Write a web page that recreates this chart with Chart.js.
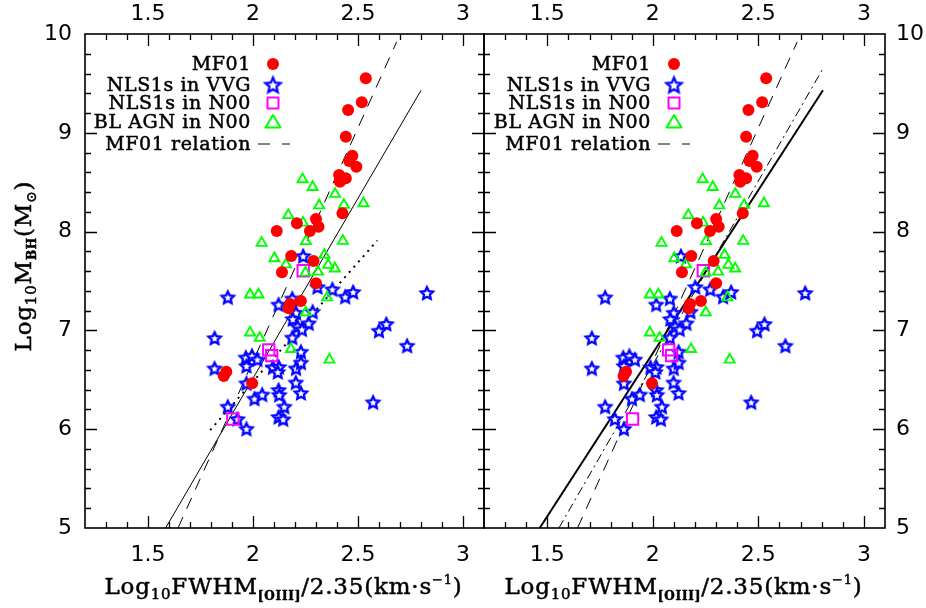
<!DOCTYPE html>
<html><head><meta charset="utf-8">
<script src="https://cdn.jsdelivr.net/npm/chart.js@4.4.0/dist/chart.umd.min.js"></script>
<style>
html,body{margin:0;padding:0;background:#fff;}
#wrap{position:relative;width:926px;height:608px;background:#fff;}
canvas{position:absolute;left:0;top:0;}
</style></head>
<body><div id="wrap"><canvas id="c1" width="926" height="608"></canvas><canvas id="c2" width="926" height="608"></canvas></div>
<script>
// ---------- data ----------
const xTickLabels = [1.5, 2, 2.5, 3];
const yTickLabels = [5, 6, 7, 8, 9, 10];
const legendLabels = ['MF01', 'NLS1s in VVG', 'NLS1s in N00', 'BL AGN in N00', 'MF01 relation'];

// MF01 (red filled circles)
const mf01X = [2.537,2.518,2.453,2.442,2.473,2.458,2.492,2.410,2.442,2.414,2.426,2.300,2.209,2.312,2.271,2.113,2.182,2.288,2.138,2.300,2.176,2.170,2.228,1.873,1.861,1.996];
const mf01Y = [9.552,9.309,9.231,8.961,8.768,8.715,8.657,8.573,8.539,8.505,8.185,8.128,8.084,8.050,8.006,8.006,7.753,7.702,7.588,7.477,7.267,7.224,7.298,6.582,6.538,6.465];

// NLS1s in VVG (blue stars), left panel
const vvgX = [2.239,1.880,2.828,2.378,2.439,2.477,2.122,2.187,2.307,2.205,2.284,2.189,2.265,2.212,2.233,2.187,1.817,2.635,2.600,2.734,2.228,1.966,1.995,2.021,1.969,1.817,2.095,2.123,2.118,2.205,2.228,1.969,2.204,2.228,2.007,2.044,2.122,2.125,2.149,1.880,2.572,2.122,2.144,1.969,1.926];
const vvgY = [7.753,7.335,7.379,7.416,7.341,7.389,7.262,7.323,7.439,7.179,7.189,7.115,7.072,7.039,7.011,6.928,6.923,7.065,6.997,6.845,6.784,6.726,6.743,6.706,6.640,6.616,6.627,6.630,6.579,6.616,6.675,6.465,6.473,6.366,6.309,6.351,6.397,6.348,6.228,6.228,6.273,6.124,6.101,6.004,6.103];
// NLS1s in VVG, right panel
const vvgRightX = [2.133,1.774,2.722,2.272,2.333,2.371,2.016,2.081,2.201,2.099,2.178,2.083,2.159,2.106,2.127,2.081,1.711,2.529,2.494,2.628,2.122,1.860,1.889,1.915,1.863,1.711,1.989,2.017,2.012,2.099,2.122,1.863,2.098,2.122,1.901,1.938,2.016,2.019,2.043,1.774,2.466,2.016,2.038,1.863,1.820];

// NLS1s in N00 (magenta squares)
const n00X = [2.239,2.075,2.089,1.904];
const n00Y = [7.604,6.802,6.744,6.103];

// BL AGN in N00 (green triangles)
const blX = [2.236,2.284,2.391,2.315,2.433,2.526,2.168,2.238,2.252,2.428,2.041,2.102,2.340,2.358,2.390,2.309,2.250,2.157,1.986,2.026,2.353,2.251,1.986,2.032,2.181,2.364];
const blY = [8.529,8.451,8.381,8.264,8.269,8.286,8.166,8.090,7.903,7.905,7.885,7.730,7.763,7.662,7.626,7.594,7.584,7.667,7.363,7.363,7.333,7.181,6.977,6.923,6.810,6.703];

// relation lines (endpoints)
const mf01RelX = [1.643, 2.684];
const mf01RelY = [5.0, 9.92];
const fitLeftX = [1.584, 2.80];
const fitLeftY = [5.0, 9.43];
const dotLeftX = [1.796, 2.592];
const dotLeftY = [5.99, 7.91];
const fitRightX = [1.464, 2.806];
const fitRightY = [5.0, 9.43];
const dashDotRightX = [1.555, 2.806];
const dashDotRightY = [5.0, 9.65];

// ---------- helpers ----------
const pts = (xs, ys) => xs.map((x, i) => ({x: x, y: ys[i]}));

function makeStar(R, r, lw, color) {
  const s = Math.ceil(2 * R + lw + 4);
  const c = document.createElement('canvas');
  c.width = s; c.height = s;
  const g = c.getContext('2d');
  g.translate(s / 2, s / 2 + 0.6);
  g.beginPath();
  for (let i = 0; i < 10; i++) {
    const rad = (i % 2) ? r : R;
    const a = -Math.PI / 2 + i * Math.PI / 5;
    g.lineTo(rad * Math.cos(a), rad * Math.sin(a));
  }
  g.closePath();
  g.fillStyle = '#fff'; g.fill();
  g.lineWidth = lw; g.strokeStyle = color; g.lineJoin = 'miter'; g.stroke();
  return c;
}
const starImg = makeStar(6.4, 3.1, 2.3, '#0000ff');
const starLegend = makeStar(8.0, 3.7, 2.3, '#0000ff');

function boldText(ctx, t, x, y) {
  ctx.fillText(t, x, y);
  ctx.strokeText(t, x, y);
}

function drawRich(ctx, segs, x, y, align, spacing) {
  ctx.letterSpacing = spacing || '0px';
  let w = 0;
  segs.forEach(s => { ctx.font = s.f; w += ctx.measureText(s.t).width; });
  let cx = align === 'center' ? x - w / 2 : (align === 'right' ? x - w : x);
  ctx.textAlign = 'left'; ctx.textBaseline = 'alphabetic';
  segs.forEach(s => { ctx.font = s.f; boldText(ctx, s.t, cx, y + (s.dy || 0)); cx += ctx.measureText(s.t).width; });
  ctx.letterSpacing = '0px';
}

const SERIF = '"DejaVu Serif", serif';
const SANS = '"DejaVu Sans", sans-serif';
const xTitleSegs = [
  {t: 'Log', f: '23px ' + SERIF},
  {t: '10', f: '15px ' + SERIF, dy: 5},
  {t: 'FWHM', f: '23px ' + SERIF},
  {t: '[OIII]', f: 'bold 12px ' + SERIF, dy: 6},
  {t: '/2.35(km\u00B7s', f: '23px ' + SERIF},
  {t: '\u22121', f: '13px ' + SERIF, dy: -10},
  {t: ')', f: '23px ' + SERIF}
];
const yTitleSegs = [
  {t: 'Log', f: '23px ' + SERIF},
  {t: '10', f: '15px ' + SERIF, dy: 5},
  {t: 'M', f: '23px ' + SERIF},
  {t: 'BH', f: 'bold 12px ' + SERIF, dy: 5},
  {t: '(M', f: '23px ' + SERIF},
  {t: '\u2299', f: '14px ' + SERIF, dy: 5},
  {t: ')', f: '23px ' + SERIF}
];

function panelPlugin(side, legendRight, symX) {
  return {
    id: 'panel_' + side,
    afterDatasetsDraw(chart) {
      const ctx = chart.ctx, a = chart.chartArea;
      const xs = chart.scales.x, ys = chart.scales.y;
      ctx.save();
      // inward ticks
      ctx.strokeStyle = '#000'; ctx.lineWidth = 1.3;
      ctx.beginPath();
      for (let i = 13; i <= 30; i++) {
        const px = Math.round(xs.getPixelForValue(i / 10)) + 0.5;
        const L = (i % 5 === 0) ? 12 : 6;
        ctx.moveTo(px, a.bottom); ctx.lineTo(px, a.bottom - L);
        ctx.moveTo(px, a.top); ctx.lineTo(px, a.top + L);
      }
      for (let i = 26; i <= 49; i++) {
        const py = Math.round(ys.getPixelForValue(i / 5)) + 0.5;
        const L = (i % 5 === 0) ? 12 : 6;
        ctx.moveTo(a.left, py); ctx.lineTo(a.left + L, py);
        ctx.moveTo(a.right, py); ctx.lineTo(a.right - L, py);
      }
      ctx.stroke();
      // frame
      ctx.lineWidth = 1.6;
      ctx.strokeRect(a.left, a.top, a.right - a.left, a.bottom - a.top);
      // tick labels
      ctx.fillStyle = '#000';
      ctx.font = '22px ' + SANS;
      ctx.textAlign = 'center'; ctx.textBaseline = 'middle';
      xTickLabels.forEach(v => {
        const px = xs.getPixelForValue(v);
        ctx.fillText(String(v), px, 14);
        ctx.fillText(String(v), px, 555);
      });
      yTickLabels.forEach(v => {
        const py = ys.getPixelForValue(v);
        if (side === 'left') { ctx.textAlign = 'right'; ctx.fillText(String(v), 72, py); }
        else { ctx.textAlign = 'left'; ctx.fillText(String(v), 896, py); }
      });
      // serif texts slightly emboldened
      ctx.strokeStyle = '#000'; ctx.lineWidth = 0.5; ctx.lineJoin = 'round';
      // x title
      drawRich(ctx, xTitleSegs, (a.left + a.right) / 2 - 1, 594, 'center', '0.8px');
      // y title
      if (side === 'left') {
        ctx.save();
        ctx.translate(31, 266);
        ctx.rotate(-Math.PI / 2);
        drawRich(ctx, yTitleSegs, 0, 0, 'center', '0.8px');
        ctx.restore();
      }
      // legend
      const rows = [64, 85, 103, 122, 144];
      ctx.font = '19px ' + SERIF;
      ctx.letterSpacing = '0.6px';
      ctx.textAlign = 'right'; ctx.textBaseline = 'middle';
      legendLabels.forEach((t, i) => boldText(ctx, t, legendRight, rows[i] + 1));
      ctx.letterSpacing = '0px';
      // symbols
      ctx.fillStyle = '#ff0000';
      ctx.beginPath(); ctx.arc(symX, rows[0], 6, 0, Math.PI * 2); ctx.fill();
      ctx.drawImage(starLegend, symX - starLegend.width / 2, rows[1] - starLegend.height / 2);
      ctx.strokeStyle = '#ff00ff'; ctx.lineWidth = 2;
      ctx.strokeRect(symX - 5.5, rows[2] - 5.5, 11, 11);
      ctx.strokeStyle = '#00ff00'; ctx.lineWidth = 2;
      ctx.beginPath();
      ctx.moveTo(symX, rows[3] - 7); ctx.lineTo(symX + 7.5, rows[3] + 5.5); ctx.lineTo(symX - 7.5, rows[3] + 5.5); ctx.closePath(); ctx.stroke();
      ctx.strokeStyle = '#000'; ctx.lineWidth = 1.2;
      ctx.beginPath();
      ctx.moveTo(legendRight + 7, rows[4]); ctx.lineTo(legendRight + 19, rows[4]);
      ctx.moveTo(legendRight + 31, rows[4]); ctx.lineTo(legendRight + 39, rows[4]);
      ctx.stroke();
      ctx.restore();
    }
  };
}

function lineDs(xs, ys, opts) {
  return Object.assign({type: 'scatter', data: pts(xs, ys), showLine: true, pointRadius: 0, borderColor: '#000', borderWidth: 1, fill: false, order: 10}, opts);
}

function pointSets(starXs) {
  return [
    {data: pts(mf01X, mf01Y), pointStyle: 'circle', pointRadius: 6, backgroundColor: '#ff0000', borderColor: '#ff0000', borderWidth: 0, order: 1},
    {data: pts(blX, blY), pointStyle: 'triangle', pointRadius: 5.8, backgroundColor: 'rgba(0,0,0,0)', borderColor: '#00ff00', borderWidth: 1.9, order: 2},
    {data: pts(n00X, n00Y), pointStyle: 'rect', pointRadius: 8, backgroundColor: 'rgba(0,0,0,0)', borderColor: '#ff00ff', borderWidth: 2, order: 3},
    {data: pts(starXs, vvgY), pointStyle: starImg, pointRadius: 6, order: 4}
  ];
}

const baseOpts = (pad) => ({
  responsive: false, animation: false, events: [],
  layout: {padding: pad},
  plugins: {legend: {display: false}, tooltip: {enabled: false}},
  scales: {
    x: {type: 'linear', min: 1.2, max: 3.1, display: false},
    y: {type: 'linear', min: 5, max: 10, display: false}
  }
});

new Chart(document.getElementById('c1'), {
  type: 'scatter',
  data: {datasets: [
    ...pointSets(vvgX),
    lineDs(fitLeftX, fitLeftY, {borderWidth: 1}),
    lineDs(mf01RelX, mf01RelY, {borderDash: [12, 9]}),
    lineDs(dotLeftX, dotLeftY, {borderDash: [2, 5], borderWidth: 2})
  ]},
  options: baseOpts({left: 85, right: 442, top: 34, bottom: 80}),
  plugins: [panelPlugin('left', 251, 273)]
});

new Chart(document.getElementById('c2'), {
  type: 'scatter',
  data: {datasets: [
    ...pointSets(vvgRightX),
    lineDs(fitRightX, fitRightY, {borderWidth: 2}),
    lineDs(dashDotRightX, dashDotRightY, {borderDash: [9, 4, 2, 4]}),
    lineDs(mf01RelX, mf01RelY, {borderDash: [12, 9]})
  ]},
  options: baseOpts({left: 484, right: 41, top: 34, bottom: 80}),
  plugins: [panelPlugin('right', 651, 674)]
});
</script>
</body></html>
